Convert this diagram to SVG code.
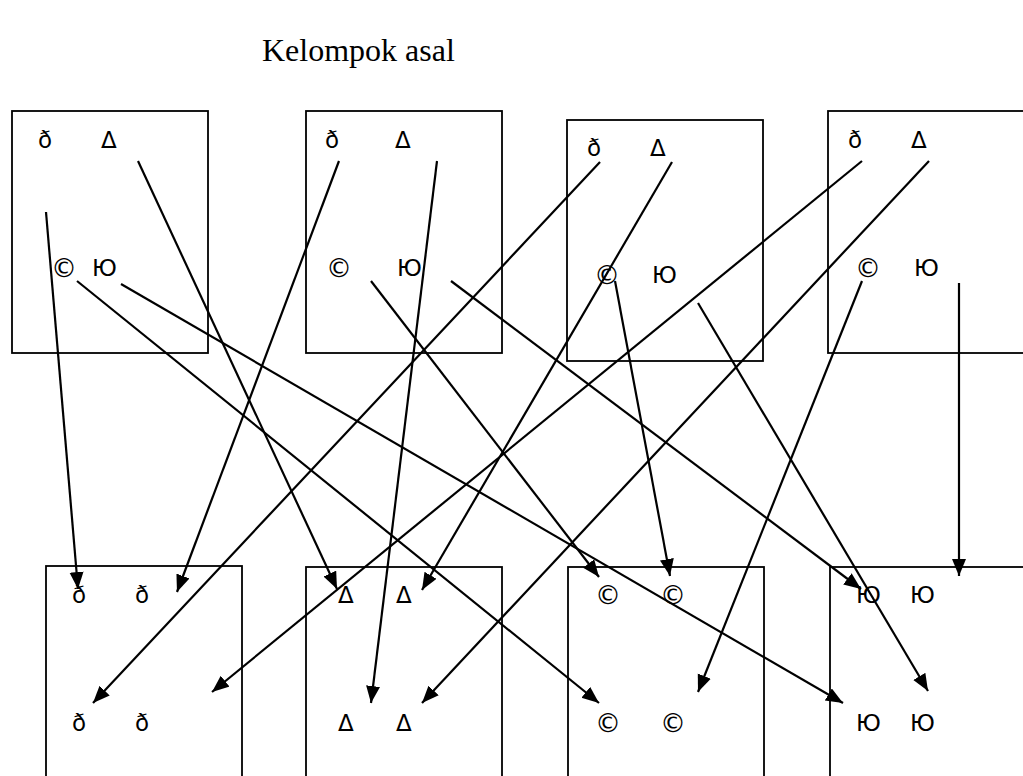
<svg xmlns="http://www.w3.org/2000/svg" width="1023" height="776" viewBox="0 0 1023 776">
<style>
.box{fill:none;stroke:#000;stroke-width:1.8}
.t{font-family:"DejaVu Sans","Liberation Sans",sans-serif;font-size:23px;fill:#000}
.cp{font-size:26px}
.title{font-family:"Liberation Serif","Times New Roman",serif;font-size:32px;fill:#000}
.c line{stroke:#000;stroke-width:2.2;marker-end:url(#ah)}
</style>
<defs>
<marker id="ah" markerUnits="userSpaceOnUse" markerWidth="19" markerHeight="16" refX="17" refY="7" orient="auto">
<path d="M0,0 L17,7 L0,14 Z" fill="#000"/>
</marker>
</defs>
<rect width="1023" height="776" fill="#fff"/>
<text class="title" x="262" y="61">Kelompok asal</text>
<g id="top1"><rect class="box" x="12" y="111" width="196" height="242"/>
<text class="t" x="38" y="148">ð</text><text class="t" x="101" y="148">Δ</text><text class="t cp" x="51" y="277">©</text><text class="t" x="92" y="276">Ю</text></g>
<g id="top2"><rect class="box" x="306" y="111" width="196" height="242"/>
<text class="t" x="325" y="148">ð</text><text class="t" x="395" y="148">Δ</text><text class="t cp" x="326" y="277">©</text><text class="t" x="397" y="276">Ю</text></g>
<g id="top3"><rect class="box" x="567" y="120" width="196" height="241"/>
<text class="t" x="587" y="156">ð</text><text class="t" x="650" y="156">Δ</text><text class="t cp" x="594" y="284">©</text><text class="t" x="652" y="283">Ю</text></g>
<g id="top4"><rect class="box" x="828" y="111" width="200" height="242"/>
<text class="t" x="848" y="148">ð</text><text class="t" x="911" y="148">Δ</text><text class="t cp" x="855" y="277">©</text><text class="t" x="914" y="276">Ю</text></g>
<g id="bot1"><rect class="box" x="46" y="566" width="196" height="220"/>
<text class="t" x="72" y="603">ð</text><text class="t" x="135" y="603">ð</text><text class="t" x="72" y="731">ð</text><text class="t" x="135" y="731">ð</text></g>
<g id="bot2"><rect class="box" x="306" y="567" width="196" height="220"/>
<text class="t" x="338" y="603">Δ</text><text class="t" x="396" y="603">Δ</text><text class="t" x="338" y="731">Δ</text><text class="t" x="396" y="731">Δ</text></g>
<g id="bot3"><rect class="box" x="568" y="567" width="196" height="220"/>
<text class="t cp" x="595" y="604">©</text><text class="t cp" x="660" y="604">©</text><text class="t cp" x="595" y="732">©</text><text class="t cp" x="660" y="732">©</text></g>
<g id="bot4"><rect class="box" x="830" y="567" width="200" height="220"/>
<text class="t" x="856" y="603">Ю</text><text class="t" x="910" y="603">Ю</text><text class="t" x="856" y="731">Ю</text><text class="t" x="910" y="731">Ю</text></g>
<g id="connectors" class="c">
<line x1="46" y1="212" x2="78" y2="589"/>
<line x1="138" y1="161" x2="337" y2="589"/>
<line x1="77" y1="281" x2="599" y2="703"/>
<line x1="121" y1="284" x2="843" y2="703"/>
<line x1="339" y1="161" x2="177" y2="592"/>
<line x1="437" y1="161" x2="371" y2="703"/>
<line x1="371" y1="281" x2="599" y2="577"/>
<line x1="451" y1="281" x2="861" y2="589"/>
<line x1="600" y1="162" x2="93" y2="703"/>
<line x1="672" y1="162" x2="422" y2="590"/>
<line x1="615" y1="281" x2="670" y2="576"/>
<line x1="698" y1="303" x2="928" y2="691"/>
<line x1="862" y1="161" x2="212" y2="692"/>
<line x1="929" y1="161" x2="422" y2="703"/>
<line x1="862" y1="281" x2="698" y2="692"/>
<line x1="959" y1="283" x2="959" y2="576"/>
</g>
</svg>
